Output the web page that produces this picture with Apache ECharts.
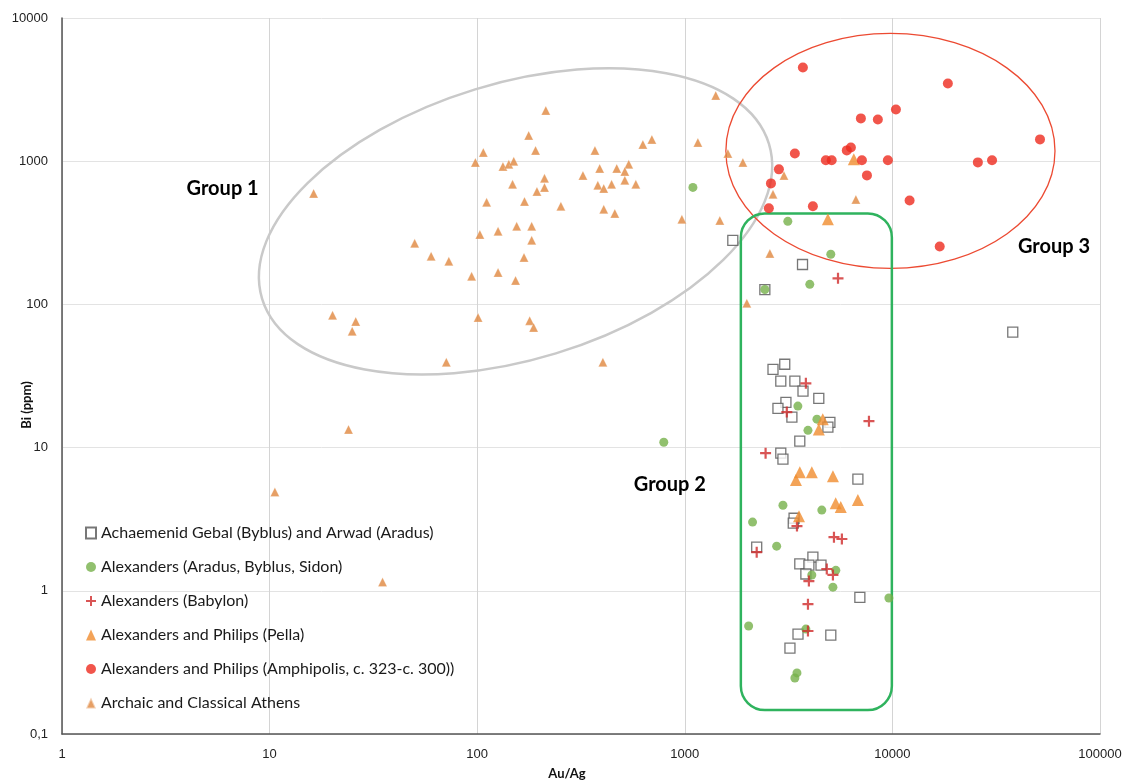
<!DOCTYPE html>
<html>
<head>
<meta charset="utf-8">
<script src="https://cdn.jsdelivr.net/npm/echarts@6/dist/echarts.min.js"></script>
<style>
html,body{margin:0;padding:0;background:#fff;}
#chart{width:1125px;height:782px;}
</style>
</head>
<body>
<div id="chart"></div>
<script>
// ---- Data (Au/Ag ratio, Bi ppm) ----
const seriesNames = [
  'Achaemenid Gebal (Byblus) and Arwad (Aradus)',
  'Alexanders (Aradus, Byblus, Sidon)',
  'Alexanders (Babylon)',
  'Alexanders and Philips (Pella)',
  'Alexanders and Philips (Amphipolis, c. 323-c. 300))',
  'Archaic and Classical Athens'
];

const achaemenidX = [1703, 3690, 2430, 38000, 3030, 2660, 2900, 3390, 3710, 4420, 3070, 2810, 3280, 5000, 4890, 3580, 2900, 2970, 6820, 3360, 3330, 2220, 4140, 3580, 3960, 4530, 3830, 6970, 3510, 5050, 3210];
const achaemenidY = [280, 190, 127, 64, 38.2, 35.2, 29.1, 29.1, 24.8, 22.1, 20.7, 18.8, 16.3, 15.0, 13.9, 11.1, 9.14, 8.3, 6.02, 3.21, 2.97, 2.02, 1.72, 1.54, 1.51, 1.51, 1.31, 0.90, 0.499, 0.491, 0.398];

const aradusX = [1094, 3135, 5050, 4000, 2430, 792, 3505, 4330, 3920, 2970, 4570, 2120, 2770, 5340, 4090, 5170, 9620, 2030, 3830, 3470, 3390];
const aradusY = [656, 380, 224, 138, 127, 10.9, 19.5, 15.8, 13.2, 3.96, 3.66, 3.02, 2.05, 1.39, 1.29, 1.06, 0.89, 0.568, 0.54, 0.267, 0.246];

const babylonX = [5470, 3830, 3100, 7710, 2450, 3470, 5230, 5710, 2220, 4830, 5170, 3960, 3920, 3920];
const babylonY = [152, 28.1, 17.7, 15.3, 9.14, 2.83, 2.37, 2.30, 1.86, 1.42, 1.29, 1.17, 0.807, 0.524];

const pellaX = [6520, 4890, 4620, 4420, 3580, 4090, 5170, 3430, 6820, 5330, 5640, 3550];
const pellaY = [1030, 393, 15.8, 13.4, 6.73, 6.73, 6.31, 5.93, 4.30, 4.09, 3.84, 3.32];

const amphipolisX = [3705, 18500, 10400, 7050, 8510, 51400, 3390, 6310, 6030, 4780, 5100, 7130, 9510, 25800, 30200, 2840, 7540, 2600, 12100, 4140, 2540, 16900];
const amphipolisY = [4515, 3490, 2298, 1990, 1958, 1420, 1133, 1248, 1190, 1014, 1014, 1014, 1014, 981, 1014, 877, 796, 700, 532, 484, 469, 254];

const athensX = [16.3, 20.1, 26, 25, 24, 10.6, 35, 214, 177, 191, 107, 98, 133, 142, 150, 211, 211, 194, 148, 111, 169, 253, 155, 183, 126, 103, 183, 168, 50, 60, 73, 94, 126, 153, 101, 179, 187, 71, 403,
  1410, 694, 628, 369, 1156, 1612, 1904, 537, 389, 470, 514, 323, 514, 444, 381, 407, 581, 407, 460, 968, 1475, 3004, 2660, 2570, 1990, 6670];
const athensY = [596, 84, 76, 65, 13.4, 4.9, 1.15, 2260, 1514, 1190, 1151, 981, 920, 951, 998, 759, 656, 615, 689, 516, 524, 484, 351, 351, 324, 308, 280, 213, 267, 217, 200, 157, 167, 147, 81, 77, 69, 39.5, 39.5,
  2877, 1420, 1310, 1190, 1352, 1133, 981, 951, 891, 891, 849, 796, 735, 689, 678, 645, 689, 461, 432, 393, 386, 796, 587, 227, 102, 541];

// axis tick values
const xTicks = [1, 10, 100, 1000, 10000, 100000];
const yTicks = [0.1, 1, 10, 100, 1000, 10000];

// annotation shapes in data coordinates
const group1Ellipse = {cx: 153, cy: 380};
const group3Ellipse = {xMin: 1577, xMax: 60700, yMin: 178.6, yMax: 7800};
const group2Box = {xMin: 1862, xMax: 9940, yMin: 0.147, yMax: 432};
const groupLabels = [
  {text: 'Group 1', x: 5.94, y: 646},
  {text: 'Group 2', x: 847, y: 5.55},
  {text: 'Group 3', x: 60000, y: 254}
];

function zip(xs, ys){ return xs.map((x,i)=>[x, ys[i]]); }

const plusPath = 'path://M0,4H4V0H6V4H10V6H6V10H4V6H0Z';
const labelFont = 'Liberation Sans';

const chart = echarts.init(document.getElementById('chart'));
const option = {
  animation: false,
  backgroundColor: '#fff',
  grid: {left: 62, right: 25, top: 18, bottom: 48},
  legend: {
    orient: 'vertical',
    left: 80,
    top: 520,
    itemGap: 18,
    itemWidth: 10,
    itemHeight: 11,
    textStyle: {fontFamily: 'Lato', fontSize: 16, color: '#1a1a1a'},
    data: seriesNames
  },
  xAxis: {
    type: 'log', logBase: 10, min: 1, max: 100000,
    axisLine: {show: true, onZero: false, lineStyle: {color: '#555', width: 1.5}},
    axisTick: {show: false},
    minorTick: {show: false},
    splitLine: {show: true, lineStyle: {color: '#d4d4d4', width: 1}},
    axisLabel: {
      fontFamily: labelFont, fontSize: 13, color: '#222', margin: 14,
      formatter: v => { const t = xTicks.find(k => Math.abs(Math.log10(k) - Math.log10(v)) < 1e-6); return t === undefined ? '' : String(t); }
    }
  },
  yAxis: {
    type: 'log', logBase: 10, min: 0.1, max: 10000,
    axisLine: {show: true, onZero: false, lineStyle: {color: '#555', width: 1.5}},
    axisTick: {show: false},
    minorTick: {show: false},
    splitLine: {show: true, lineStyle: {color: '#e3e3e3', width: 1}},
    axisLabel: {
      fontFamily: labelFont, fontSize: 13, color: '#222', margin: 14,
      formatter: v => { const t = yTicks.find(k => Math.abs(Math.log10(k) - Math.log10(v)) < 1e-6); return t === undefined ? '' : String(t).replace('.', ','); }
    }
  },
  series: [
    {name: seriesNames[0], type: 'scatter', symbol: 'rect', symbolSize: 10,
     itemStyle: {color: '#fff', borderColor: '#555', borderWidth: 1.3}, data: zip(achaemenidX, achaemenidY)},
    {name: seriesNames[1], type: 'scatter', symbol: 'circle', symbolSize: 9,
     itemStyle: {color: '#76b04a'}, data: zip(aradusX, aradusY)},
    {name: seriesNames[2], type: 'scatter', symbol: plusPath, symbolSize: 11,
     itemStyle: {color: '#cf2a2a'}, data: zip(babylonX, babylonY)},
    {name: seriesNames[3], type: 'scatter', symbol: 'triangle', symbolSize: 12,
     itemStyle: {color: '#f08c2e'}, data: zip(pellaX, pellaY)},
    {name: seriesNames[4], type: 'scatter', symbol: 'circle', symbolSize: 10,
     itemStyle: {color: '#ee2a1e'}, data: zip(amphipolisX, amphipolisY)},
    {name: seriesNames[5], type: 'scatter', symbol: 'triangle', symbolSize: 9,
     itemStyle: {color: '#e0873f', borderColor: 'rgba(255,255,255,0.6)', borderWidth: 0.5}, data: zip(athensX, athensY)}
  ]
};
chart.setOption(option);

function px(x, y){ return chart.convertToPixel({gridIndex: 0}, [x, y]); }

const g1c = px(group1Ellipse.cx, group1Ellipse.cy);
const g3a = px(group3Ellipse.xMin, group3Ellipse.yMax);
const g3b = px(group3Ellipse.xMax, group3Ellipse.yMin);
const g2a = px(group2Box.xMin, group2Box.yMax);
const g2b = px(group2Box.xMax, group2Box.yMin);

const graphics = [
  {type: 'ellipse', x: g1c[0], y: g1c[1], rotation: 17 * Math.PI / 180, z: 1,
   shape: {cx: 0, cy: 0, rx: 265, ry: 138},
   style: {fill: 'none', stroke: '#c9c9c9', lineWidth: 2.5}},
  {type: 'ellipse', z: 1,
   shape: {cx: (g3a[0] + g3b[0]) / 2, cy: (g3a[1] + g3b[1]) / 2, rx: (g3b[0] - g3a[0]) / 2, ry: (g3b[1] - g3a[1]) / 2},
   style: {fill: 'none', stroke: '#ec4a32', lineWidth: 1.3}},
  {type: 'rect', z: 1,
   shape: {x: g2a[0], y: g2a[1], width: g2b[0] - g2a[0], height: g2b[1] - g2a[1], r: 24},
   style: {fill: 'none', stroke: '#2fb35e', lineWidth: 2.5}},
  {type: 'text', x: 27, y: 405, rotation: Math.PI / 2, z: 10,
   style: {text: 'Bi (ppm)', font: 'bold 13px Lato', fill: '#111', align: 'center', verticalAlign: 'middle'}},
  {type: 'text', x: 567, y: 774, z: 10,
   style: {text: 'Au/Ag', font: 'bold 13px Lato', fill: '#111', align: 'center', verticalAlign: 'middle'}}
];
groupLabels.forEach(l => {
  const p = px(l.x, l.y);
  graphics.push({type: 'text', x: p[0], y: p[1], z: 10,
    style: {text: l.text, font: 'bold 20px Lato', fill: '#000', align: 'center', verticalAlign: 'middle'}});
});
chart.setOption({graphic: graphics});
</script>
</body>
</html>
